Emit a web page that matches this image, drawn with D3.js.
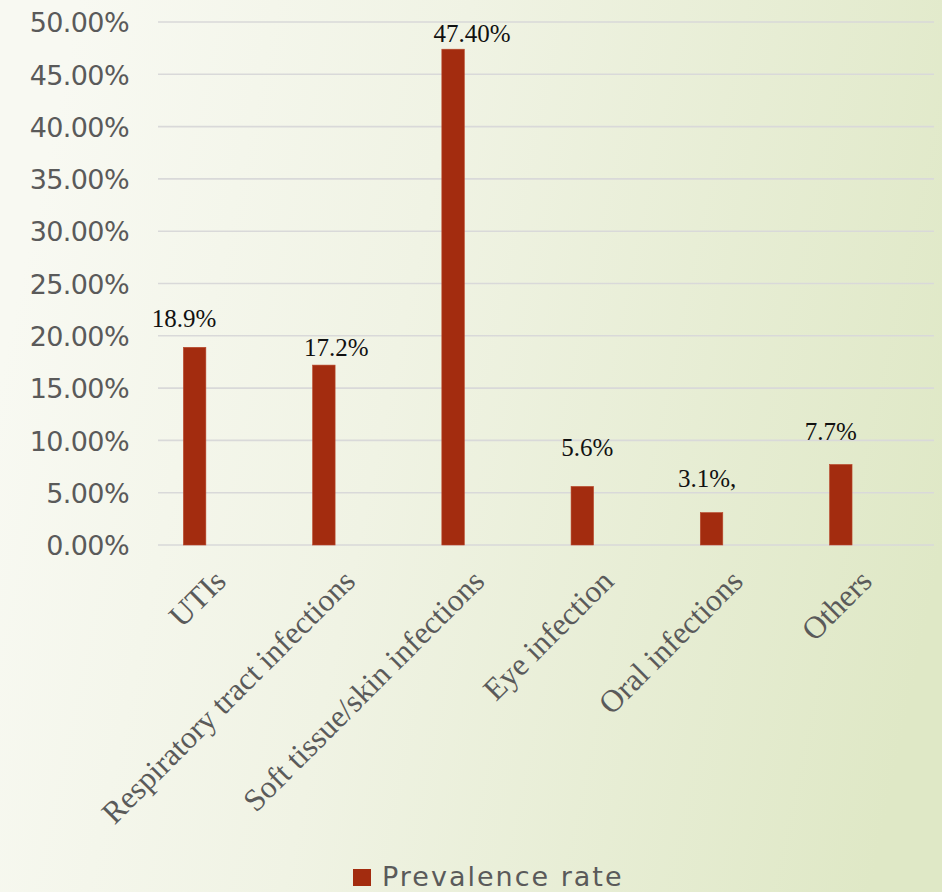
<!DOCTYPE html>
<html>
<head>
<meta charset="utf-8">
<script src="https://cdn.jsdelivr.net/npm/d3@7"></script>
<style>
  html, body { margin: 0; padding: 0; }
  body { width: 942px; height: 892px; overflow: hidden; }
</style>
</head>
<body>
<svg id="chart" width="942" height="892"></svg>
<script>
// Infection categories and their prevalence rates (%)
const categories = [
  "UTIs",
  "Respiratory tract infections",
  "Soft tissue/skin infections",
  "Eye infection",
  "Oral infections",
  "Others"
];
const prevalence = [18.9, 17.2, 47.4, 5.6, 3.1, 7.7];
const valueLabels = ["18.9%", "17.2%", "47.40%", "5.6%", "3.1%,", "7.7%"];
const yTicks = [0, 5, 10, 15, 20, 25, 30, 35, 40, 45, 50];
const seriesName = "Prevalence rate";

// Layout
const W = 942, H = 892;
const plot = { top: 22, bottom: 545, gridLeft: 158, gridRight: 934, bandLeft: 130, bandRight: 905.4 };
// hand-placed value label offsets: [dx from bar centre, gap above bar top]
const labelNudge = [[-10.5, 20], [12.5, 9], [19, 7.6], [5, 30], [-4.5, 25.6], [-10, 24.5]];

const barColor = "#A32C0F";
const axisText = "#5A5A5A";

const svg = d3.select("#chart");

// background wash
const defs = svg.append("defs");
const grad = defs.append("linearGradient")
  .attr("id", "bg").attr("x1", "0%").attr("y1", "42%").attr("x2", "100%").attr("y2", "62%");
grad.append("stop").attr("offset", "0%").attr("stop-color", "#F8F9F2");
grad.append("stop").attr("offset", "40%").attr("stop-color", "#F0F3E4");
grad.append("stop").attr("offset", "100%").attr("stop-color", "#DFE8C6");
svg.append("rect").attr("width", W).attr("height", H).attr("fill", "url(#bg)");

const y = d3.scaleLinear().domain([0, 50]).range([plot.bottom, plot.top]);
const x = d3.scaleBand().domain(categories).range([plot.bandLeft, plot.bandRight]).paddingInner(0).paddingOuter(0);
const barW = 22.5;

// horizontal gridlines
svg.append("g").selectAll("line").data(yTicks).join("line")
  .attr("x1", plot.gridLeft).attr("x2", plot.gridRight)
  .attr("y1", d => y(d)).attr("y2", d => y(d))
  .attr("stroke", "#D9D9D9").attr("stroke-width", 1.6);

// y axis tick labels
const yAxis = d3.axisLeft(y).tickValues(yTicks)
  .tickFormat(d => d.toFixed(2) + "%").tickSize(0).tickPadding(0);
const yg = svg.append("g").attr("transform", "translate(129,0)").call(yAxis);
yg.select(".domain").remove();
yg.selectAll("text")
  .attr("fill", axisText)
  .style("font-family", "'DejaVu Sans', sans-serif")
  .style("font-size", "27px")
  .style("letter-spacing", "-0.6px")
  .attr("dy", "0.36em");

// bars
svg.append("g").selectAll("rect").data(prevalence).join("rect")
  .attr("x", (d, i) => x(categories[i]) + x.bandwidth() / 2 - barW / 2)
  .attr("width", barW)
  .attr("y", d => y(d))
  .attr("height", d => y(0) - y(d))
  .attr("fill", barColor)
  .attr("stroke", "#B9492C").attr("stroke-width", 0.6);

// value labels
svg.append("g").selectAll("text").data(prevalence).join("text")
  .attr("x", (d, i) => x(categories[i]) + x.bandwidth() / 2 + labelNudge[i][0])
  .attr("y", (d, i) => y(d) - labelNudge[i][1])
  .attr("text-anchor", "middle")
  .style("font-family", "'Liberation Serif', 'Times New Roman', serif")
  .style("font-size", "25px")
  .attr("fill", "#111")
  .text((d, i) => valueLabels[i]);

// category labels, rotated
const xAxis = d3.axisBottom(x).tickSize(0).tickPadding(0);
const xg = svg.append("g").attr("transform", `translate(0,${plot.bottom})`).call(xAxis);
xg.select(".domain").remove();
xg.selectAll("text")
  .attr("fill", axisText)
  .style("font-family", "'Liberation Serif', 'Times New Roman', serif")
  .style("font-size", "31.5px")
  .attr("text-anchor", "end")
  .attr("dy", null)
  .attr("y", 0)
  .attr("transform", "translate(33,38) rotate(-45)");

// legend
const legend = svg.append("g").attr("transform", "translate(353,869)");
legend.append("rect").attr("width", 18).attr("height", 17).attr("fill", barColor);
legend.append("text")
  .attr("x", 29).attr("y", 16.5)
  .attr("fill", axisText)
  .style("font-family", "'DejaVu Sans', sans-serif")
  .style("font-size", "27px")
  .style("letter-spacing", "2px")
  .text(seriesName);
</script>
</body>
</html>
